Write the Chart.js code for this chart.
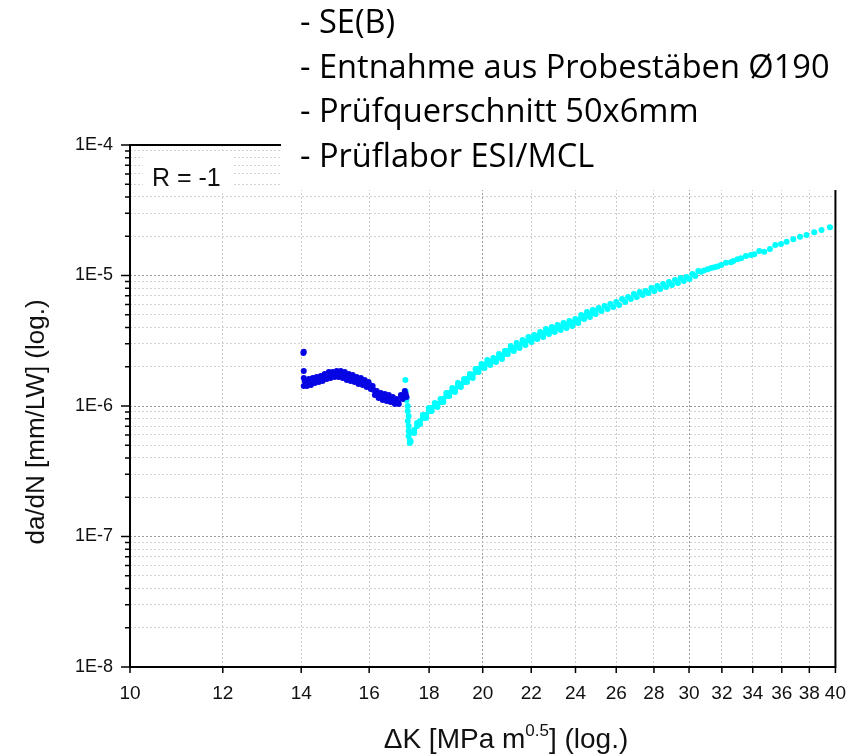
<!DOCTYPE html>
<html>
<head>
<meta charset="utf-8">
<script src="https://cdn.jsdelivr.net/npm/chart.js@4.4.1/dist/chart.umd.min.js"></script>
<style>
  html, body { margin: 0; padding: 0; background: #fff; }
  #wrap { width: 861px; height: 754px; position: relative; }
</style>
</head>
<body>
<div id="wrap"><canvas id="c" width="861" height="754"></canvas></div>
<script>
// Stress intensity range axis: labelled ticks (MPa m^0.5)
const xTickValues = [10, 12, 14, 16, 18, 20, 22, 24, 26, 28, 30, 32, 34, 36, 38, 40];
// Crack growth rate axis: decades and their labels (mm/LW)
const yDecades = [1e-8, 1e-7, 1e-6, 1e-5, 1e-4];
const yDecadeLabels = ['1E-8', '1E-7', '1E-6', '1E-5', '1E-4'];

// Test section 1 (blue): Delta K and da/dN (da/dN in 1e-6 mm/LW)
const blueK = [
  14.07, 14.06, 14.07, 14.07, 14.07,
  14.10, 14.16, 14.21, 14.27, 14.32, 14.38, 14.43, 14.49, 14.55, 14.60,
  14.66, 14.72, 14.78, 14.83, 14.89, 14.95, 15.01, 15.07, 15.13, 15.19,
  15.25, 15.31, 15.37, 15.43, 15.49, 15.55, 15.61, 15.67, 15.74, 15.80,
  15.86, 15.92, 15.98, 16.05, 16.11, 16.18, 16.24, 16.30, 16.37, 16.43,
  16.50, 16.56, 16.63, 16.69, 16.76, 16.83, 16.89, 16.96, 17.03, 17.09,
  17.16, 17.22,
  14.13, 14.24, 14.35, 14.46, 14.58, 14.69, 14.80, 14.92, 15.04, 15.16,
  15.28, 15.40, 15.52, 15.64, 15.77, 15.89, 16.02, 16.14, 16.27, 16.40,
  16.53, 16.66, 16.79, 16.93, 17.06, 17.19
];
const blueRateE6 = [
  2.60, 2.55, 1.854, 1.639, 1.423,
  1.554, 1.423, 1.610, 1.448, 1.639, 1.500, 1.668, 1.527, 1.698, 1.554,
  1.759, 1.610, 1.822, 1.639, 1.822, 1.668, 1.854, 1.668, 1.854, 1.639,
  1.822, 1.582, 1.759, 1.554, 1.728, 1.527, 1.668, 1.474, 1.639, 1.448,
  1.582, 1.398, 1.527, 1.350, 1.423, 1.214, 1.303, 1.152, 1.258, 1.111,
  1.236, 1.092, 1.214, 1.073, 1.172, 1.036, 1.131, 1.036, 1.214, 1.131,
  1.303, 1.172,
  1.474, 1.527, 1.582, 1.610, 1.639, 1.698, 1.728, 1.728, 1.759, 1.759,
  1.698, 1.639, 1.610, 1.582, 1.527, 1.474, 1.448, 1.326, 1.236, 1.193,
  1.172, 1.152, 1.111, 1.073, 1.172, 1.236
];

// Test section 2 (cyan): Delta K and da/dN (da/dN in 1e-6 mm/LW)
const cyanK = [
  17.18, 17.19, 17.22, 17.26, 17.26, 17.29, 17.26, 17.29, 17.29, 17.29,
  17.33, 17.33, 17.36,
  17.38, 17.48, 17.58, 17.68, 17.78, 17.89, 17.99, 18.09, 18.20, 18.30,
  18.41, 18.51, 18.62, 18.73, 18.84, 18.94, 19.05, 19.16, 19.28, 19.39,
  19.50, 19.61, 19.72, 19.84, 19.95, 20.07, 20.18, 20.30, 20.42, 20.53,
  20.65, 20.77, 20.89, 21.01, 21.13, 21.26, 21.38, 21.50, 21.63, 21.75,
  21.88, 22.01, 22.13, 22.26, 22.39, 22.52, 22.65, 22.78, 22.91, 23.04,
  23.17, 23.31, 23.44, 23.58, 23.71, 23.85, 23.99, 24.13, 24.27, 24.41,
  24.55, 24.69, 24.83, 24.97,
  17.58, 17.78, 17.99, 18.20, 18.41, 18.62, 18.84, 19.05, 19.28, 19.50,
  19.72, 19.95, 20.18, 20.42, 20.65, 20.89, 21.13, 21.38, 21.63, 21.88,
  22.13, 22.39, 22.65, 22.91, 23.17, 23.44, 23.71, 23.99, 24.27, 24.55,
  24.83,
  17.48, 17.68, 17.89, 18.09, 18.30, 18.51, 18.73, 18.94, 19.16, 19.39,
  19.61, 19.84, 20.07, 20.30, 20.53, 20.77, 21.01, 21.26, 21.50, 21.75,
  22.01, 22.26, 22.52, 22.78, 23.04, 23.31, 23.58, 23.85, 24.13, 24.41,
  24.69, 24.97,
  25.12, 25.26, 25.41, 25.56, 25.70, 25.85, 26.00, 26.15, 26.30, 26.46,
  26.61, 26.76, 26.92, 27.07, 27.23, 27.39, 27.54, 27.70, 27.86, 28.02,
  28.18, 28.35, 28.51, 28.68, 28.84, 29.01, 29.18, 29.35, 29.51, 29.69,
  29.85, 30.03, 30.20, 30.37, 30.55,
  30.72, 30.89, 31.12, 31.34, 31.53, 31.72, 31.95, 32.26, 32.58, 32.73,
  33.00, 33.23, 33.55, 33.88, 34.10, 34.44, 34.78, 35.17, 35.54, 35.94,
  36.34, 36.82, 37.31, 37.79, 38.37, 38.92, 39.57
];
const cyanRateE6 = [
  1.58, 1.30, 1.11, 1.000, 0.916, 0.838, 0.767, 0.703, 0.643, 0.589,
  0.549, 0.520, 0.535,
  0.632, 0.621, 0.741, 0.728, 0.853, 0.809, 0.965, 0.916, 1.054, 0.983,
  1.131, 1.073, 1.258, 1.193, 1.374, 1.280, 1.500, 1.398, 1.610, 1.527,
  1.759, 1.639, 1.921, 1.822, 2.099, 1.955, 2.252, 2.062, 2.333, 2.174,
  2.504, 2.292, 2.639, 2.504, 2.883, 2.639, 3.039, 2.782, 3.204, 2.934,
  3.379, 3.093, 3.500, 3.261, 3.689, 3.379, 3.890, 3.562, 4.029, 3.689,
  4.174, 3.822, 4.324, 3.959, 4.480, 4.101, 4.641, 4.324, 4.981, 4.641,
  5.251, 4.808, 5.440, 5.070,
  0.703, 0.809, 0.916, 1.000, 1.073, 1.193, 1.303, 1.423, 1.527, 1.668,
  1.822, 1.990, 2.136, 2.213, 2.375, 2.504, 2.734, 2.883, 3.039, 3.204,
  3.319, 3.500, 3.689, 3.822, 3.959, 4.101, 4.248, 4.402, 4.724, 4.981,
  5.160,
  0.655, 0.767, 0.853, 0.965, 1.036, 1.131, 1.258, 1.350, 1.474, 1.610,
  1.728, 1.921, 2.062, 2.174, 2.292, 2.417, 2.639, 2.782, 2.934, 3.093,
  3.261, 3.438, 3.562, 3.755, 3.890, 4.029, 4.174, 4.324, 4.560, 4.894,
  5.070, 5.345,
  5.634, 5.345, 5.837, 5.537, 6.047, 5.735, 6.266, 5.941, 6.607, 6.266,
  6.843, 6.607, 7.215, 6.843, 7.474, 7.089, 7.607, 7.343, 8.021, 7.607,
  8.308, 7.881, 8.607, 8.163, 8.917, 8.456, 9.237, 8.760, 9.569, 9.075,
  9.740, 9.401, 10.27, 9.913, 10.83,
  10.69, 10.92, 11.16, 11.42, 11.56, 11.72, 12.04, 12.54, 12.63, 12.92,
  13.31, 13.55, 14.11, 14.36, 14.54, 15.41, 15.22, 15.96, 17.13, 17.43,
  18.16, 18.94, 19.84, 20.44, 21.43, 22.32, 23.41
];

// Text drawn on the chart
const xTitleParts = ['\u0394K [MPa m', '0.5', '] (log.)'];
const yTitle = 'da/dN [mm/LW] (log.)';
const ratioLabel = 'R = -1';
const infoLines = [
  '- SE(B)',
  '- Entnahme aus Probest\u00e4ben \u00d8190',
  '- Pr\u00fcfquerschnitt 50x6mm',
  '- Pr\u00fcflabor ESI/MCL'
];

const toPoints = (ks, ratesE6) => ks.map((k, i) => ({ x: k, y: ratesE6[i] * 1e-6 }));

const isDecade = v => Math.abs(Math.log10(v) - Math.round(Math.log10(v))) < 1e-6;

// all y grid positions: 1..9 x 10^n
function yGridValues() {
  const out = [];
  for (let d = 0; d < yDecades.length; d++) {
    const base = yDecades[d];
    if (d === yDecades.length - 1) { out.push(base); break; }
    for (let m = 1; m <= 9; m++) out.push(m * base);
  }
  return out;
}

const SANS = '"Liberation Sans", Arial, sans-serif';
const NARROW = '"Liberation Sans Narrow", "Liberation Sans", Arial, sans-serif';

const decorations = {
  id: 'decorations',
  afterDraw(chart) {
    const ctx = chart.ctx;
    const xs = chart.scales.x, ys = chart.scales.y;
    const a = chart.chartArea;
    ctx.save();

    // frame
    ctx.strokeStyle = '#000';
    ctx.lineWidth = 2;
    ctx.strokeRect(a.left, a.top, a.right - a.left, a.bottom - a.top);

    // tick marks
    ctx.lineWidth = 1.5;
    ctx.beginPath();
    ys.ticks.forEach(t => {
      const y = ys.getPixelForValue(t.value);
      const len = isDecade(t.value) ? 9 : 5;
      ctx.moveTo(a.left - len, y);
      ctx.lineTo(a.left, y);
    });
    xs.ticks.forEach(t => {
      const x = xs.getPixelForValue(t.value);
      ctx.moveTo(x, a.bottom);
      ctx.lineTo(x, a.bottom + 6);
    });
    ctx.stroke();

    // axis titles
    ctx.fillStyle = '#111';
    ctx.textBaseline = 'middle';
    ctx.textAlign = 'center';
    ctx.font = '26px ' + SANS;
    ctx.save();
    ctx.translate(37, 422);
    ctx.rotate(-Math.PI / 2);
    ctx.fillText(yTitle, 0, 0);
    ctx.restore();

    ctx.textAlign = 'left';
    ctx.textBaseline = 'alphabetic';
    const mainFont = '28px ' + SANS, supFont = '17px ' + SANS;
    ctx.font = mainFont; const w0 = ctx.measureText(xTitleParts[0]).width;
    ctx.font = supFont; const w1 = ctx.measureText(xTitleParts[1]).width;
    ctx.font = mainFont; const w2 = ctx.measureText(xTitleParts[2]).width;
    let tx = 506 - (w0 + w1 + w2) / 2;
    const base = 748;
    ctx.font = mainFont; ctx.fillText(xTitleParts[0], tx, base); tx += w0;
    ctx.font = supFont; ctx.fillText(xTitleParts[1], tx, base - 12); tx += w1;
    ctx.font = mainFont; ctx.fillText(xTitleParts[2], tx, base);

    // stress ratio label
    ctx.fillStyle = '#fff';
    ctx.fillRect(143, 153, 90, 40);
    ctx.fillStyle = '#111';
    ctx.font = '25px ' + SANS;
    ctx.fillText(ratioLabel, 152, 186);

    // specimen notes
    ctx.fillStyle = '#fff';
    ctx.fillRect(281, 0, 861 - 281, 190);
    ctx.fillStyle = '#000';
    const noteFamily = '"Open Sans", Lato, "Noto Sans", sans-serif';
    ctx.font = '30px ' + noteFamily;
    const widest = Math.max(...infoLines.map(s => ctx.measureText(s).width));
    const size = Math.min(40, 30 * 530 / widest);
    ctx.font = size.toFixed(1) + 'px ' + noteFamily;
    const baselines = [33, 78, 122, 167];
    infoLines.forEach((s, i) => ctx.fillText(s, 300, baselines[i]));

    ctx.restore();
  }
};

new Chart(document.getElementById('c'), {
  type: 'scatter',
  data: {
    datasets: [
      {
        label: 'section 1',
        data: toPoints(blueK, blueRateE6),
        backgroundColor: '#0606e4',
        borderWidth: 0,
        pointRadius: 3
      },
      {
        label: 'section 2',
        data: toPoints(cyanK, cyanRateE6),
        backgroundColor: '#00ffff',
        borderWidth: 0,
        pointRadius: 3
      }
    ]
  },
  options: {
    responsive: false,
    animation: false,
    devicePixelRatio: 1,
    layout: { padding: { left: 0, top: 145, right: 25, bottom: 0 } },
    plugins: { legend: { display: false }, tooltip: { enabled: false } },
    scales: {
      x: {
        type: 'logarithmic',
        min: 10,
        max: 40,
        afterBuildTicks(s) { s.ticks = xTickValues.map(v => ({ value: v })); },
        afterFit(s) { s.height = 87; },
        ticks: {
          autoSkip: false,
          maxRotation: 0,
          padding: 15,
          color: '#111',
          font: { family: NARROW, size: 19 },
          callback: v => String(v)
        },
        grid: {
          drawTicks: false,
          lineWidth: 1,
          color: c => (c.tick && (c.tick.value === 20 || c.tick.value === 30)) ? '#9a9a9a' : '#cdcdcd'
        },
        border: { display: false, dash: [2, 2] }
      },
      y: {
        type: 'logarithmic',
        min: 1e-8,
        max: 1e-4,
        afterBuildTicks(s) { s.ticks = yGridValues().map(v => ({ value: v })); },
        afterFit(s) { s.width = 130; },
        ticks: {
          autoSkip: false,
          padding: 17,
          color: '#111',
          font: { family: SANS, size: 18 },
          callback: v => {
            if (!isDecade(v)) return '';
            const i = yDecades.findIndex(d => Math.abs(Math.log10(d) - Math.log10(v)) < 1e-6);
            return i >= 0 ? yDecadeLabels[i] : '';
          }
        },
        grid: {
          drawTicks: false,
          lineWidth: 1,
          color: c => (c.tick && isDecade(c.tick.value)) ? '#9a9a9a' : '#d2d2d2'
        },
        border: { display: false, dash: [2, 2] }
      }
    }
  },
  plugins: [decorations]
});
</script>
</body>
</html>
